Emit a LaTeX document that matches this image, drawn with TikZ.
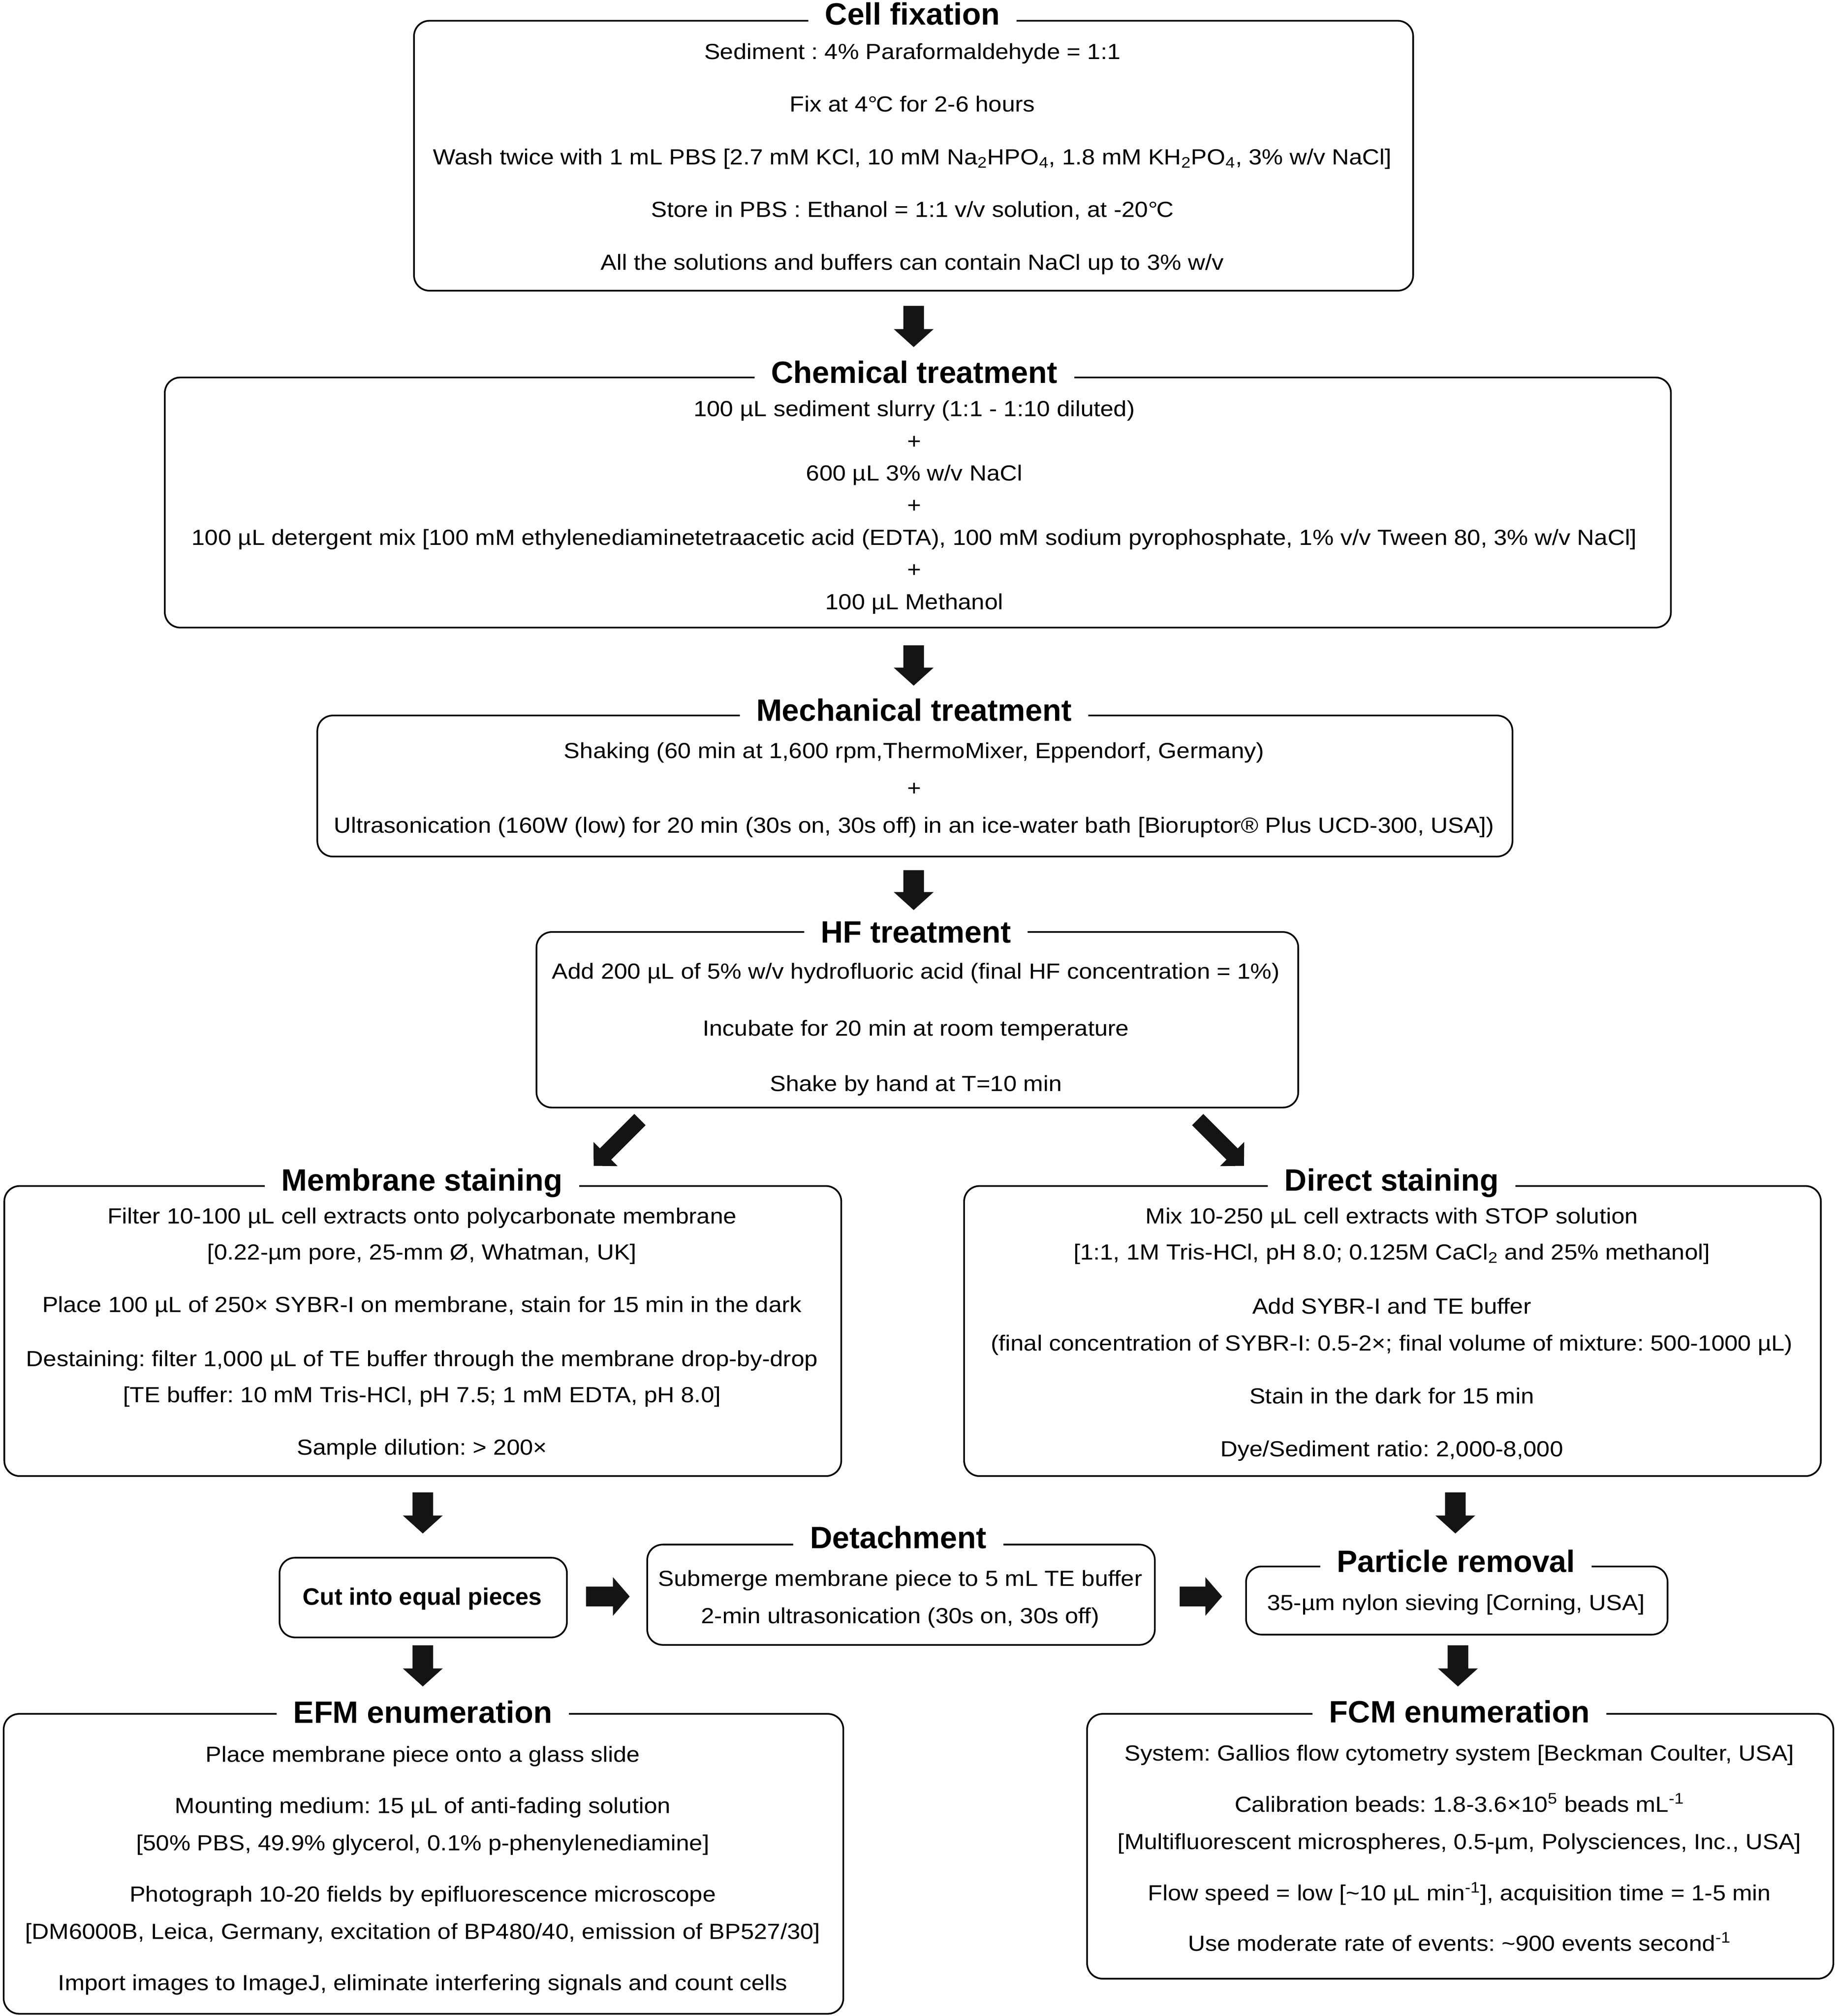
\documentclass[tikz,border=0pt]{standalone}
\usepackage{fontspec}
\setmainfont{Liberation Sans}
\newfontfamily\bodyfont[FakeStretch=1.09]{Liberation Sans}
\usetikzlibrary{calc}
\frenchspacing
\newcommand\degC{\char"00B0\kern-0.06em C}
\newcommand{\blockarrow}[5]{%
  \fill[arrowfill] let \p1=(#1), \p2=(#2), \n1={atan2(\y2-\y1,\x2-\x1)}, \n2={veclen(\x2-\x1,\y2-\y1)} in
    [shift={(\p1)}, rotate=\n1] (0,-#3) -- ({\n2-#5},-#3) -- ({\n2-#5},-#4) -- (\n2,0) -- ({\n2-#5},#4) -- ({\n2-#5},#3) -- (0,#3) -- cycle;}
\tikzset{
  box/.style={draw=black, line width=1.3pt, rounded corners=12pt, anchor=north west, inner sep=0pt},
  ttl/.style={fill=white, inner xsep=13pt, inner ysep=1pt, anchor=base, font=\fontsize{24}{28}\selectfont\bfseries\frenchspacing},
  txt/.style={anchor=base, inner sep=0pt, font=\bodyfont\fontsize{17}{20}\selectfont\frenchspacing},
  btxt/.style={anchor=base, inner sep=0pt, font=\fontsize{18.5}{22}\selectfont\bfseries\frenchspacing},
  arrowfill/.style={fill=black!92}
}
\begin{document}
\begin{tikzpicture}[x=1pt,y=1pt]
\useasboundingbox (0,0) rectangle (1430,-1568.4);
% ---------- boxes ----------
\node[box, minimum width=777.5pt, minimum height=210pt] (b1) at (321.5,-15.5) {};
\node[box, minimum width=1172pt, minimum height=194.6pt] (b2) at (127.6,-293) {};
\node[box, minimum width=930pt, minimum height=109.7pt] (b3) at (246.3,-556) {};
\node[box, minimum width=592.8pt, minimum height=136.6pt] (b4) at (416.8,-724.4) {};
\node[box, minimum width=651.3pt, minimum height=225.7pt] (b5) at (2.7,-922) {};
\node[box, minimum width=666.7pt, minimum height=225.7pt] (b6) at (749.6,-922) {};
\node[box, minimum width=223.6pt, minimum height=62pt] (cut) at (216.9,-1211.2) {};
\node[box, minimum width=395pt, minimum height=78pt] (det) at (503,-1201) {};
\node[box, minimum width=328pt, minimum height=53pt] (part) at (969,-1218) {};
\node[box, minimum width=653.4pt, minimum height=233.3pt] (efm) at (2.2,-1332.7) {};
\node[box, minimum width=580.7pt, minimum height=206pt] (fcm) at (845.3,-1332.7) {};
% ---------- titles ----------
\node[ttl] (t1) at (710,-19.2) {Cell fixation};
\node[ttl] (t2) at (711.5,-298) {Chemical treatment};
\node[ttl] (t3) at (711.3,-561) {Mechanical treatment};
\node[ttl] (t4) at (712.7,-733.5) {HF treatment};
\node[ttl] (t5) at (328.4,-926.6) {Membrane staining};
\node[ttl] (t6) at (1083,-926.6) {Direct staining};
\node[ttl] (t7) at (699,-1204.5) {Detachment};
\node[ttl] (t8) at (1133,-1223) {Particle removal};
\node[ttl] (t9) at (329,-1340.5) {EFM enumeration};
\node[ttl] (t10) at (1135.7,-1340.2) {FCM enumeration};
% ---------- box 1 ----------
\node[txt] (b1a) at (710,-46) {Sediment : 4\% Paraformaldehyde = 1:1};
\node[txt] (b1b) at (710,-87) {Fix at 4\degC{} for 2-6 hours};
\node[txt] (b1c) at (710,-128) {Wash twice with 1 mL PBS [2.7 mM KCl, 10 mM Na\textsubscript{2}HPO\textsubscript{4}, 1.8 mM KH\textsubscript{2}PO\textsubscript{4}, 3\% w/v NaCl]};
\node[txt] (b1d) at (710,-169) {Store in PBS : Ethanol = 1:1 v/v solution, at -20\degC};
\node[txt] (b1e) at (710,-210) {All the solutions and buffers can contain NaCl up to 3\% w/v};
% ---------- box 2 ----------
\node[txt] (b2a) at (711.5,-324) {100 µL sediment slurry (1:1 - 1:10 diluted)};
\node[txt] (b2b) at (711.5,-349) {+};
\node[txt] (b2c) at (711.5,-374) {600 µL 3\% w/v NaCl};
\node[txt] (b2d) at (711.5,-399) {+};
\node[txt] (b2e) at (711.5,-424) {100 µL detergent mix [100 mM ethylenediaminetetraacetic acid (EDTA), 100 mM sodium pyrophosphate, 1\% v/v Tween 80, 3\% w/v NaCl]};
\node[txt] (b2f) at (711.5,-449) {+};
\node[txt] (b2g) at (711.5,-474) {100 µL Methanol};
% ---------- box 3 ----------
\node[txt] (b3a) at (711.3,-590) {Shaking (60 min at 1,600 rpm,ThermoMixer, Eppendorf, Germany)};
\node[txt] (b3b) at (711.3,-619) {+};
\node[txt] (b3c) at (711.3,-648) {Ultrasonication (160W (low) for 20 min (30s on, 30s off) in an ice-water bath [Bioruptor® Plus UCD-300, USA])};
% ---------- box 4 ----------
\node[txt] (b4a) at (712.7,-761.7) {Add 200 µL of 5\% w/v hydrofluoric acid (final HF concentration = 1\%)};
\node[txt] (b4b) at (712.7,-806) {Incubate for 20 min at room temperature};
\node[txt] (b4c) at (712.7,-849) {Shake by hand at T=10 min};
% ---------- box 5 ----------
\node[txt] (b5a) at (328.4,-952) {Filter 10-100 µL cell extracts onto polycarbonate membrane};
\node[txt] (b5b) at (328.4,-980) {[0.22-µm pore, 25-mm Ø, Whatman, UK]};
\node[txt] (b5c) at (328.4,-1021) {Place 100 µL of 250× SYBR-I on membrane, stain for 15 min in the dark};
\node[txt] (b5d) at (328.4,-1063) {Destaining: filter 1,000 µL of TE buffer through the membrane drop-by-drop};
\node[txt] (b5e) at (328.4,-1091) {[TE buffer: 10 mM Tris-HCl, pH 7.5; 1 mM EDTA, pH 8.0]};
\node[txt] (b5f) at (328.4,-1132) {Sample dilution: > 200×};
% ---------- box 6 ----------
\node[txt] (b6a) at (1083,-952) {Mix 10-250 µL cell extracts with STOP solution};
\node[txt] (b6b) at (1083,-980) {[1:1, 1M Tris-HCl, pH 8.0; 0.125M CaCl\textsubscript{2} and 25\% methanol]};
\node[txt] (b6c) at (1083,-1022) {Add SYBR-I and TE buffer};
\node[txt] (b6d) at (1083,-1051) {(final concentration of SYBR-I: 0.5-2×; final volume of mixture: 500-1000 µL)};
\node[txt] (b6e) at (1083,-1092) {Stain in the dark for 15 min};
\node[txt] (b6f) at (1083,-1133) {Dye/Sediment ratio: 2,000-8,000};
% ---------- middle row ----------
\node[btxt] (cuta) at (328.7,-1248.6) {Cut into equal pieces};
\node[txt] (deta) at (700.5,-1234) {Submerge membrane piece to 5 mL TE buffer};
\node[txt] (detb) at (700.5,-1263) {2-min ultrasonication (30s on, 30s off)};
\node[txt] (parta) at (1133,-1252.7) {35-µm nylon sieving [Corning, USA]};
% ---------- EFM ----------
\node[txt] (efma) at (329,-1370.7) {Place membrane piece onto a glass slide};
\node[txt] (efmb) at (329,-1410.6) {Mounting medium: 15 µL of anti-fading solution};
\node[txt] (efmc) at (329,-1439.7) {[50\% PBS, 49.9\% glycerol, 0.1\% p-phenylenediamine]};
\node[txt] (efmd) at (329,-1479.5) {Photograph 10-20 fields by epifluorescence microscope};
\node[txt] (efme) at (329,-1508.5) {[DM6000B, Leica, Germany, excitation of BP480/40, emission of BP527/30]};
\node[txt] (efmf) at (329,-1548.4) {Import images to ImageJ, eliminate interfering signals and count cells};
% ---------- FCM ----------
\node[txt] (fcma) at (1135.7,-1369.8) {System: Gallios flow cytometry system [Beckman Coulter, USA]};
\node[txt] (fcmb) at (1135.7,-1409.7) {Calibration beads: 1.8-3.6×10\textsuperscript{5} beads mL\textsuperscript{-1}};
\node[txt] (fcmc) at (1135.7,-1438.8) {[Multifluorescent microspheres, 0.5-µm, Polysciences, Inc., USA]};
\node[txt] (fcmd) at (1135.7,-1478.7) {Flow speed = low [\textasciitilde 10 µL min\textsuperscript{-1}], acquisition time = 1-5 min};
\node[txt] (fcme) at (1135.7,-1517.8) {Use moderate rate of events: \textasciitilde 900 events second\textsuperscript{-1}};
% ---------- arrow end points ----------
\coordinate (a1s) at (711,-238);   \coordinate (a1e) at (711,-270);
\coordinate (a2s) at (711,-502);   \coordinate (a2e) at (711,-533.4);
\coordinate (a3s) at (711,-677);   \coordinate (a3e) at (711,-708);
\coordinate (a4s) at (498,-871);   \coordinate (a4e) at (462,-907);
\coordinate (a5s) at (932,-871);   \coordinate (a5e) at (968,-907);
\coordinate (a6s) at (329,-1161);  \coordinate (a6e) at (329,-1193);
\coordinate (a7s) at (1132.5,-1161); \coordinate (a7e) at (1132.5,-1193);
\coordinate (a8s) at (456,-1242);  \coordinate (a8e) at (490,-1242);
\coordinate (a9s) at (918,-1242);  \coordinate (a9e) at (951,-1242);
\coordinate (a10s) at (329,-1280); \coordinate (a10e) at (329,-1312);
\coordinate (a11s) at (1134.5,-1280); \coordinate (a11e) at (1134.5,-1312);
% ---------- arrows ----------
\blockarrow{a1s}{a1e}{8}{15.5}{14}
\blockarrow{a2s}{a2e}{8}{15.5}{14}
\blockarrow{a3s}{a3e}{8}{15.5}{14}
\blockarrow{a4s}{a4e}{6.2}{13.3}{13}
\blockarrow{a5s}{a5e}{6.2}{13.3}{13}
\blockarrow{a6s}{a6e}{8}{15.5}{14}
\blockarrow{a7s}{a7e}{8}{15.5}{14}
\blockarrow{a8s}{a8e}{7.7}{15}{13}
\blockarrow{a9s}{a9e}{7.7}{15}{13}
\blockarrow{a10s}{a10e}{8}{15.5}{14}
\blockarrow{a11s}{a11e}{8}{15.5}{14}
\end{tikzpicture}
\end{document}
